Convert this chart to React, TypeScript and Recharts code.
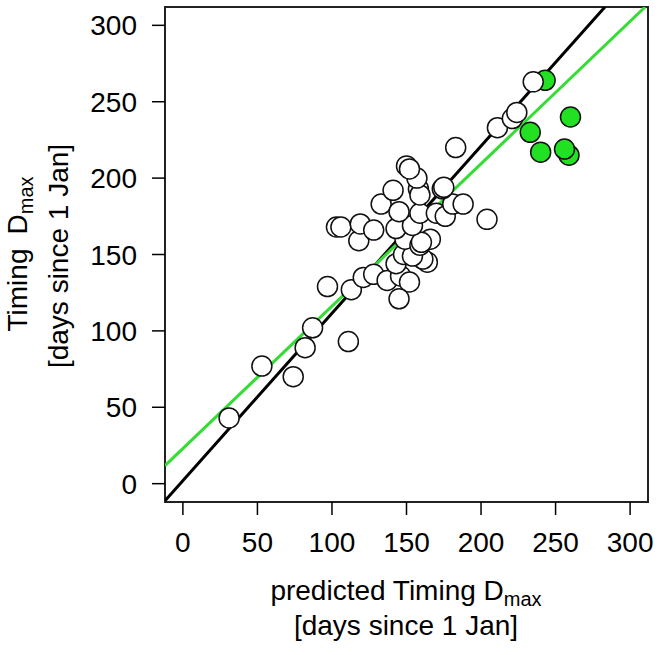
import React from "react";
import { ScatterChart, Scatter, XAxis, YAxis, ReferenceArea } from "recharts";

// observed vs predicted timing, white = main set, green = highlighted sites
const whitePredicted = [31, 53, 74, 82, 87, 111, 97, 113, 121, 128, 137, 146, 152, 145, 143, 164, 161, 148, 154, 149, 159, 166, 160, 118, 103, 106, 119, 128, 143, 154, 133, 145, 159, 170, 176, 181, 188, 141, 158, 159, 174, 175, 157, 150, 152, 183, 204, 211, 221, 224, 235];
const whiteObserved = [43, 77, 70, 89, 102, 93, 129, 127, 135, 137, 133, 136, 132, 121, 144, 145, 147, 150, 149, 160, 156, 160, 158, 159, 168, 168, 170, 166, 167, 169, 183, 178, 177, 177, 175, 183, 183, 192, 193, 189, 193, 194, 200, 208, 206, 220, 173, 233, 239, 243, 263];

const greenPredicted = [243, 260, 233, 240, 259, 256];
const greenObserved = [264, 240, 230, 217, 215, 219];

// fitted lines: [slope, intercept]
const blackFit = [1.095, 2];
const greenFit = [0.932, 23];

const axisDomain = [-12, 312];
const axisTicks = [0, 50, 100, 150, 200, 250, 300];

const toPoints = (xs: number[], ys: number[]) => xs.map((x, i) => ({ x, y: ys[i] }));

// endpoints of y = a*x + b kept inside the plotting window
function fitSegment([a, b]: number[]) {
  const [lo, hi] = axisDomain;
  const pts: { x: number; y: number }[] = [];
  for (const x of [lo, hi]) {
    let px = x;
    let py = a * x + b;
    if (py > hi) { py = hi; px = (hi - b) / a; }
    if (py < lo) { py = lo; px = (lo - b) / a; }
    pts.push({ x: px, y: py });
  }
  return pts;
}

const whitePoints = toPoints(whitePredicted, whiteObserved);
const greenPoints = toPoints(greenPredicted, greenObserved);

const font = "'Liberation Sans', Arial, Helvetica, sans-serif";

const dot = (fill: string) => (props: any) => (
  <circle cx={props.cx} cy={props.cy} r={10} fill={fill} stroke="#111" strokeWidth={1.5} />
);

const XTick = ({ x, y, payload }: any) => (
  <text x={x} y={y} dy={35} textAnchor="middle" fontSize={28} fill="#000" fontFamily={font}>
    {payload.value}
  </text>
);

const YTick = ({ x, y, payload }: any) => (
  <text x={x} y={y} dy={10} textAnchor="end" fontSize={28} fill="#000" fontFamily={font}>
    {payload.value}
  </text>
);

const XTitle = () => (
  <g fontFamily={font} fill="#000">
    <text x={406} y={600} textAnchor="middle" fontSize={28}>
      <tspan>predicted Timing D</tspan>
      <tspan fontSize={20} dy={6}>max</tspan>
    </text>
    <text x={406} y={635} textAnchor="middle" fontSize={28}>
      [days since 1 Jan]
    </text>
  </g>
);

const YTitle = () => (
  <g fontFamily={font} fill="#000">
    <text transform="rotate(-90)" x={-254} y={27} textAnchor="middle" fontSize={28}>
      <tspan>Timing</tspan>
      <tspan dx={14}>D</tspan>
      <tspan fontSize={20} dy={6}>max</tspan>
    </text>
    <text transform="rotate(-90)" x={-256} y={68} textAnchor="middle" fontSize={28}>
      [days since 1 Jan]
    </text>
  </g>
);

export default function App() {
  return (
    <div style={{ position: "absolute", left: 0, top: 0, width: 660, height: 655, background: "#fff" }}>
      <ScatterChart width={660} height={655} margin={{ top: 7, right: 12, left: 0, bottom: 0 }}>
        <XAxis
          type="number"
          dataKey="x"
          domain={axisDomain}
          ticks={axisTicks}
          allowDataOverflow
          height={153}
          tickSize={13}
          tickMargin={2}
          axisLine={false}
          stroke="#000"
          tickLine={{ stroke: "#000", strokeWidth: 1.5 }}
          tick={<XTick />}
          label={{ content: () => <XTitle /> }}
        />
        <YAxis
          type="number"
          dataKey="y"
          domain={axisDomain}
          ticks={axisTicks}
          allowDataOverflow
          width={165}
          tickSize={13}
          tickMargin={15}
          axisLine={false}
          stroke="#000"
          tickLine={{ stroke: "#000", strokeWidth: 1.5 }}
          tick={<YTick />}
          label={{ content: () => <YTitle /> }}
        />
        <ReferenceArea
          x1={axisDomain[0]}
          x2={axisDomain[1]}
          y1={axisDomain[0]}
          y2={axisDomain[1]}
          fill="none"
          stroke="#222"
          strokeWidth={2}
          ifOverflow="visible"
        />
        <Scatter
          data={fitSegment(blackFit)}
          line={{ stroke: "#000", strokeWidth: 3 }}
          lineType="joint"
          shape={() => <g />}
          isAnimationActive={false}
        />
        <Scatter
          data={fitSegment(greenFit)}
          line={{ stroke: "#33dd33", strokeWidth: 3 }}
          lineType="joint"
          shape={() => <g />}
          isAnimationActive={false}
        />
        <Scatter data={greenPoints} shape={dot("#22e022")} isAnimationActive={false} />
        <Scatter data={whitePoints} shape={dot("#ffffff")} isAnimationActive={false} />
      </ScatterChart>
    </div>
  );
}
